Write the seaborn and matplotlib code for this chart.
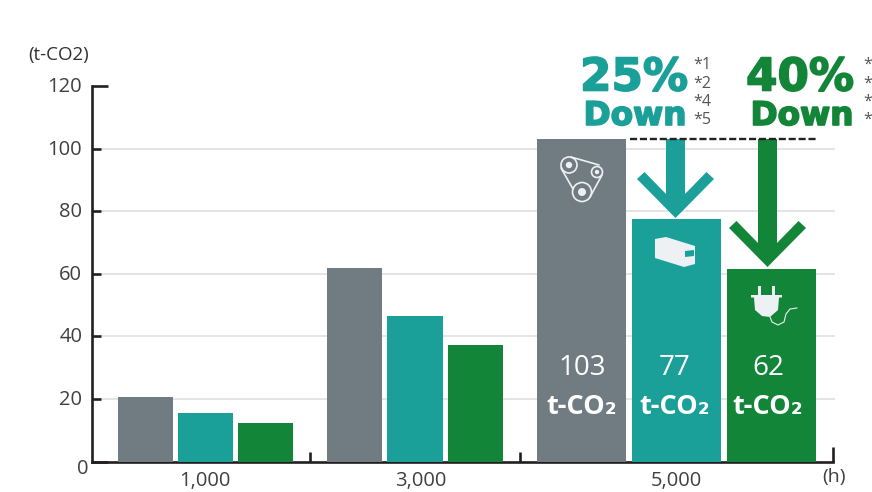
import matplotlib
matplotlib.use("Agg")
import matplotlib.pyplot as plt
import matplotlib.patheffects as pe
from matplotlib.patches import Circle, Polygon
from matplotlib.transforms import ScaledTranslation
import seaborn as sns

# values
hours = ["1,000", "3,000", "5,000"]
techs = ["Belt", "Direct", "Motor"]
co2_1000 = [20.6, 15.5, 12.4]
co2_3000 = [61.8, 46.4, 37.1]
co2_5000 = [103, 77.5, 61.6]
y_ticks = [0, 20, 40, 60, 80, 100, 120]
bar_labels = ["103", "77", "62"]

GREY = "#717c82"
TEAL = "#1b9f99"
GREEN = "#128538"
TEXT = "#404040"
LINE = "#231f20"
ICON = "#eef1f3"
W, H = 872, 492

sns.set_theme(style="white")
plt.rcParams["font.family"] = ["Open Sans", "DejaVu Sans"]

fig = plt.figure(figsize=(W / 100, H / 100), dpi=100)


def rect(x0, x1, y0=86, y1=461.5):
    return [x0 / W, 1 - y1 / H, (x1 - x0) / W, (y1 - y0) / H]


# main axes: xlim is in pixels so the three groups can have their own widths
ax = fig.add_axes(rect(92, 836))
ax.set_xlim(92, 836)
ax.set_ylim(0, 120)
ax.hlines(y_ticks[1:-1], 101, 835, color="#dcdcdc", lw=1.1, zorder=0)
sns.despine(ax=ax, right=True, top=True)
for side in ["left", "bottom"]:
    ax.spines[side].set_color(LINE)
    ax.spines[side].set_linewidth(1.9)
ax.spines["bottom"].set_bounds(92, 833)

ax.set_yticks(y_ticks)
ax.tick_params(axis="y", left=True, direction="in", color=LINE, width=1.9, length=6.5,
               labelsize=14.5, labelcolor=TEXT, pad=7)
for tick, val in zip(ax.yaxis.get_major_ticks(), y_ticks):
    if val in (0, 120):
        tick.tick1line.set_markersize(11.5)
    # the labels sit a little above their ticks, the zero below and to the right
    dx, dy = (6, -5) if val == 0 else (0, 1.5)
    tick.label1.set_transform(tick.label1.get_transform() + ScaledTranslation(dx / 100, dy / 100, fig.dpi_scale_trans))
ax.set_xticks([310, 520, 833])
ax.set_xticklabels([])
ax.tick_params(axis="x", which="major", bottom=True, direction="in", color=LINE, width=1.9, length=7)
ax.xaxis.get_major_ticks()[2].tick1line.set_markersize(10.5)
ax.set_xticks([205, 421, 676], minor=True)
ax.set_xticklabels(hours, minor=True)
ax.tick_params(axis="x", which="minor", bottom=False, length=0, labelsize=14.5, labelcolor=TEXT, pad=7)


def group(values, x0, x1, width):
    sub = fig.add_axes(rect(x0, x1), facecolor="none")
    sns.barplot(x=techs, y=values, hue=techs, palette=[GREY, TEAL, GREEN],
                width=width, saturation=1, legend=False, linewidth=0, ax=sub)
    sub.set_xlim(-width / 2, 2 + width / 2)
    sub.set_ylim(0, 120)
    sub.axis("off")


group(co2_1000, 118, 293, 0.92)
group(co2_3000, 327, 503, 0.92)
group(co2_5000, 537, 816, 0.937)

# overlay in pixel coordinates for annotations and icons
ov = fig.add_axes([0, 0, 1, 1], facecolor="none")
ov.set_xlim(0, W)
ov.set_ylim(H, 0)
ov.axis("off")

ov.text(59, 55, "(t-CO2)", ha="center", va="center", fontsize=13.5, color="#303030")
ov.text(834, 477, "(h)", ha="center", va="center", fontsize=14, color=TEXT)

for cx, label in zip([582, 675, 768], bar_labels):
    ov.text(cx, 368, label, ha="center", va="center", fontsize=20, color="white")
    ov.text(cx, 407, "t-CO₂", ha="center", va="center", fontsize=19.5, color="white", fontweight="bold")

# reduction callouts
ov.plot([630, 818], [139, 139], color="#222222", lw=1.7, dashes=(3, 1.2))


def arrow(cx, top, tip, color):
    ov.add_patch(Polygon([
        (cx - 9.5, top), (cx + 9.5, top), (cx + 9.5, tip - 24), (cx + 31, tip - 46),
        (cx + 38.5, tip - 39), (cx, tip), (cx - 38.5, tip - 39), (cx - 31, tip - 46),
        (cx - 9.5, tip - 24)], color=color, lw=0))


arrow(675.5, 139, 218, TEAL)
arrow(767.5, 139, 267, GREEN)

head = dict(ha="center", va="center", fontweight="bold", family="DejaVu Sans")


def callout(x, y, label, size, color):
    t = ov.text(x, y, label, fontsize=size, color=color, **head)
    t.set_path_effects([pe.withStroke(linewidth=1.2, foreground=color)])


callout(634, 78, "25%", 32.5, TEAL)
callout(635, 115.5, "Down", 23.5, TEAL)
callout(800, 78, "40%", 32.5, GREEN)
callout(802, 115.5, "Down", 23.5, GREEN)

note_y = [65, 84, 102, 120]
for y, note in zip(note_y, ["*1", "*2", "*4", "*5"]):
    ov.text(693, y, note, ha="left", va="center", fontsize=11.5, color="#555555")
    # only the asterisks of the second set fit inside the picture
    ov.text(863, y, "*", ha="left", va="center", fontsize=11.5, color="#555555")

# belt icon
for cx, cy, r, dot in [(569, 165, 8, 3.2), (597, 172, 5.5, 2.2), (582, 192, 9.5, 4)]:
    ov.add_patch(Circle((cx, cy), r, fill=False, ec=ICON, lw=1.2))
    ov.add_patch(Circle((cx, cy), dot, color=ICON, lw=0))
ov.plot([571, 599], [157, 165], color=ICON, lw=1.2)
ov.plot([561, 573], [168, 189], color=ICON, lw=1.2)
ov.plot([602, 590], [175, 197], color=ICON, lw=1.2)

# box icon
ov.add_patch(Polygon([(655, 239), (666, 237), (695, 246), (695, 264), (684, 267), (655, 258)], color=ICON, lw=0))
ov.add_patch(Polygon([(685, 251), (694, 250), (694, 256), (685, 257)], color=TEAL, lw=0))

# plug icon
ov.add_patch(Polygon([(751, 295), (782, 295), (782, 297.5), (779, 297.5), (778, 310), (770, 317),
                      (762, 316), (755, 310), (754, 297.5), (751, 297.5)], color=ICON, lw=0))
ov.add_patch(Polygon([(758, 286), (761, 286), (761, 295), (758, 295)], color=ICON, lw=0))
ov.add_patch(Polygon([(772, 286), (775, 286), (775, 295), (772, 295)], color=ICON, lw=0))
ov.plot([770, 772, 778, 784, 786, 790, 797], [317, 322, 325, 322, 314, 309, 308], color=ICON, lw=0.8)

fig.savefig("out.png", dpi=100)
